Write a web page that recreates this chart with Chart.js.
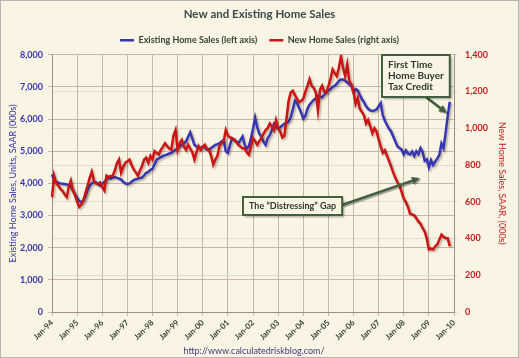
<!DOCTYPE html>
<html lang="en">
<head>
  <meta charset="UTF-8">
  <title>New and Existing Home Sales</title>
  <script src="https://cdn.jsdelivr.net/npm/chart.js"></script>
  <style>
    html, body { margin: 0; padding: 0; background: #f9f4e4; }
  </style>
</head>
<body>
  <canvas id="homeSalesChart" width="519" height="358"></canvas>
  <script>
    // Monthly data, Jan-94 .. Nov-09 (thousands, SAAR)
    const years = ['94','95','96','97','98','99','00','01','02','03','04','05','06','07','08','09','10'];
    const monthNames = ['Jan','Feb','Mar','Apr','May','Jun','Jul','Aug','Sep','Oct','Nov','Dec'];

    // Existing home sales (left axis)
    const existingSales = [
      4280, 4100, 4050, 4020, 4000, 3990, 3980, 3970, 3950, 3900, 3780, 3650, // 1994
      3550, 3450, 3420, 3480, 3600, 3800, 3930, 4000, 4050, 4030, 3980, 3930, // 1995
      3980, 4050, 4120, 4180, 4150, 4180, 4200, 4170, 4150, 4120, 4050, 4000, // 1996
      3980, 4000, 4050, 4100, 4130, 4150, 4170, 4180, 4250, 4330, 4360, 4420, // 1997
      4450, 4600, 4740, 4780, 4820, 4850, 4880, 4900, 4930, 4950, 5000, 5050, // 1998
      5100, 5150, 5200, 5250, 5300, 5450, 5590, 5400, 5200, 5150, 5100, 5100, // 1999
      5150, 5120, 5050, 5050, 5100, 5150, 5200, 5220, 5250, 5300, 5350, 5000, // 2000
      4950, 5200, 5400, 5350, 5300, 5250, 5350, 5460, 5200, 5080, 5150, 5400, // 2001
      5700, 6050, 5750, 5550, 5450, 5300, 5200, 5400, 5500, 5650, 5850, 5750, // 2002
      5700, 5750, 5800, 5860, 5880, 5920, 6050, 6300, 6575, 6500, 6350, 6200, // 2003
      6015, 6100, 6320, 6450, 6525, 6600, 6650, 6727, 6700, 6680, 6750, 6830, // 2004
      6900, 6930, 7000, 7032, 7100, 7185, 7230, 7230, 7200, 7135, 7080, 7030, // 2005
      6830, 6930, 6900, 6750, 6620, 6525, 6400, 6320, 6270, 6250, 6270, 6300, // 2006
      6400, 6500, 6116, 5950, 5811, 5700, 5608, 5450, 5300, 5150, 5100, 5050, // 2007
      4900, 5030, 4930, 4900, 4990, 4850, 5000, 4910, 5100, 4980, 4700, 4750, // 2008
      4500, 4720, 4570, 4680, 4770, 4890, 5240, 5100, 5570, 6100, 6540        // 2009
    ];

    // New home sales (right axis)
    const newSales = [
      625, 742, 700, 688, 670, 660, 640, 625, 680, 715, 660, 635,             // 1994
      600, 572, 585, 608, 650, 688, 730, 763, 715, 700, 697, 705,             // 1995
      680, 662, 742, 735, 740, 742, 770, 810, 830, 758, 790, 812,             // 1996
      820, 830, 800, 776, 760, 742, 770, 795, 830, 840, 812, 850,             // 1997
      830, 876, 865, 857, 883, 900, 919, 903, 890, 883, 960, 990,             // 1998
      883, 920, 937, 900, 883, 910, 890, 870, 830, 870, 903, 883,             // 1999
      900, 910, 890, 883, 850, 803, 830, 850, 903, 920, 930, 990,             // 2000
      960, 950, 945, 940, 925, 910, 900, 890, 892, 870, 857, 900,             // 2001
      946, 930, 910, 930, 946, 970, 990, 1000, 1026, 1010, 990, 1044,         // 2002
      1000, 982, 950, 960, 1053, 1150, 1195, 1204, 1180, 1160, 1142, 1150,    // 2003
      1160, 1200, 1231, 1267, 1231, 1220, 1195, 1097, 1210, 1231, 1200, 1195, // 2004
      1230, 1267, 1320, 1300, 1284, 1329, 1391, 1329, 1284, 1347, 1257, 1240, // 2005
      1200, 1133, 1165, 1106, 1089, 1070, 1026, 1045, 1010, 973, 1000, 982,   // 2006
      940, 900, 866, 880, 850, 821, 790, 758, 730, 705, 688, 652,             // 2007
      616, 598, 572, 536, 530, 527, 510, 492, 480, 456, 438, 400,             // 2008
      340, 345, 340, 358, 367, 394, 421, 410, 402, 402, 358                   // 2009
    ];

    // category labels Jan-94 .. Jan-10
    const labels = [];
    years.forEach(function (y, k) {
      monthNames.forEach(function (m) {
        if (k < years.length - 1 || m === 'Jan') labels.push(m + '-' + y);
      });
    });

    const FONT = 'Lato, "Open Sans", sans-serif';
    const BLUE = '#3535b5';
    const RED = '#cc1414';
    const GRID = '#c6b7ab';

    // cream background + thin outer border
    const chartBackground = {
      id: 'chartBackground',
      beforeDraw(chart) {
        const ctx = chart.ctx;
        ctx.save();
        ctx.fillStyle = '#f9f4e4';
        ctx.fillRect(0, 0, chart.width, chart.height);
        ctx.strokeStyle = '#b5b5b5';
        ctx.lineWidth = 1;
        ctx.strokeRect(0.5, 0.5, chart.width - 1, chart.height - 1);
        ctx.restore();
      }
    };

    // excel-ish drop shadow under the lines
    const lineShadow = {
      id: 'lineShadow',
      beforeDatasetsDraw(chart) {
        const ctx = chart.ctx;
        ctx.save();
        ctx.shadowColor = 'rgba(60,40,20,0.35)';
        ctx.shadowBlur = 2;
        ctx.shadowOffsetX = 1.5;
        ctx.shadowOffsetY = 1.5;
      },
      afterDatasetsDraw(chart) {
        chart.ctx.restore();
      }
    };

    function drawArrow(ctx, x1, y1, x2, y2) {
      const a = Math.atan2(y2 - y1, x2 - x1);
      const head = 9;
      ctx.beginPath();
      ctx.moveTo(x1, y1);
      ctx.lineTo(x2 - Math.cos(a) * head * 0.8, y2 - Math.sin(a) * head * 0.8);
      ctx.stroke();
      ctx.beginPath();
      ctx.moveTo(x2, y2);
      ctx.lineTo(x2 - head * Math.cos(a - 0.45), y2 - head * Math.sin(a - 0.45));
      ctx.lineTo(x2 - head * Math.cos(a + 0.45), y2 - head * Math.sin(a + 0.45));
      ctx.closePath();
      ctx.fill();
    }

    function drawNote(ctx, x, y, w, h, lines, lineGap, size) {
      ctx.save();
      ctx.font = 'bold ' + size + 'px ' + FONT;
      const textW = Math.max.apply(null, lines.map(function (t) { return ctx.measureText(t).width; }));
      w = Math.max(w, textW + 12);
      ctx.shadowColor = 'rgba(0,0,0,0.35)';
      ctx.shadowOffsetX = 2;
      ctx.shadowOffsetY = 2;
      ctx.shadowBlur = 2;
      ctx.fillStyle = '#f9f4e4';
      ctx.fillRect(x, y, w, h);
      ctx.restore();
      ctx.save();
      ctx.strokeStyle = '#41603f';
      ctx.lineWidth = 2;
      ctx.strokeRect(x, y, w, h);
      ctx.fillStyle = '#2e3a2e';
      ctx.font = 'bold ' + size + 'px ' + FONT;
      ctx.textBaseline = 'middle';
      lines.forEach(function (t, k) {
        ctx.fillText(t, x + 6, y + h / 2 + (k - (lines.length - 1) / 2) * lineGap);
      });
      ctx.restore();
    }

    // call-out boxes, arrows and the source line
    const notes = {
      id: 'notes',
      afterDraw(chart) {
        const ctx = chart.ctx;
        ctx.save();
        ctx.strokeStyle = '#41603f';
        ctx.fillStyle = '#41603f';
        ctx.lineWidth = 2.5;
        ctx.shadowColor = 'rgba(0,0,0,0.3)';
        ctx.shadowOffsetX = 1.5;
        ctx.shadowOffsetY = 1.5;
        drawArrow(ctx, 426, 97, 447, 113);
        drawArrow(ctx, 342, 205, 420, 178);
        ctx.restore();

        drawNote(ctx, 382, 55, 65, 42, ['First Time', 'Home Buyer', 'Tax Credit'], 11, 10);
        drawNote(ctx, 243, 197, 99, 18, ['The \u201CDistressing\u201D Gap'], 11, 9);

        ctx.save();
        ctx.fillStyle = '#3b3b78';
        ctx.font = '9px ' + FONT;
        ctx.textAlign = 'center';
        ctx.textBaseline = 'middle';
        ctx.fillText('http://www.calculatedriskblog.com/', 254, 351);
        ctx.restore();
      }
    };

    const ctx = document.getElementById('homeSalesChart').getContext('2d');
    const homeSalesChart = new Chart(ctx, {
      type: 'line',
      data: {
        labels: labels,
        datasets: [{
          label: 'Existing Home Sales (left axis)',
          data: existingSales,
          yAxisID: 'yLeft',
          borderColor: BLUE,
          backgroundColor: BLUE,
          borderWidth: 2.5,
          pointRadius: 0,
          tension: 0,
          order: 1
        }, {
          label: 'New Home Sales (right axis)',
          data: newSales,
          yAxisID: 'yRight',
          borderColor: RED,
          backgroundColor: RED,
          borderWidth: 2.5,
          pointRadius: 0,
          tension: 0,
          order: 0
        }]
      },
      options: {
        responsive: false,
        devicePixelRatio: 1,
        animation: false,
        layout: { padding: { left: 0, right: 0, top: 0, bottom: 0 } },
        plugins: {
          title: {
            display: true,
            text: 'New and Existing Home Sales',
            color: '#3a4a4a',
            font: { family: FONT, size: 11.5, weight: 'bold' },
            padding: { top: 7, bottom: 3 }
          },
          legend: {
            display: true,
            labels: {
              color: '#34432f',
              font: { family: FONT, size: 9, weight: 'bold' },
              usePointStyle: true,
              pointStyle: 'line',
              pointStyleWidth: 14,
              padding: 12,
              sort: function (a, b) { return a.datasetIndex - b.datasetIndex; }
            }
          },
          tooltip: { enabled: false }
        },
        scales: {
          x: {
            type: 'category',
            offset: false,
            afterFit: function (s) { s.height = 46; },
            grid: { color: GRID, lineWidth: 1, tickLength: 4, drawTicks: true },
            border: { color: '#9a8f86' },
            ticks: {
              autoSkip: false,
              maxRotation: 45,
              minRotation: 45,
              padding: 2,
              color: '#34432f',
              font: { family: FONT, size: 8, weight: 'bold' },
              callback: function (v) {
                const l = this.getLabelForValue(v);
                return l.indexOf('Jan') === 0 ? l : null;
              }
            }
          },
          yLeft: {
            position: 'left',
            min: 0,
            max: 8000,
            afterFit: function (s) { s.width = 52; },
            grid: { color: GRID, tickLength: 4 },
            border: { color: '#9a8f86' },
            ticks: {
              stepSize: 1000,
              padding: 5,
              color: '#3333aa',
              font: { family: FONT, size: 9, weight: 'bold' },
              callback: function (v) { return v.toLocaleString('en-US'); }
            },
            title: {
              display: true,
              text: 'Existing Home Sales, Units, SAAR (000s)',
              color: '#3333aa',
              font: { family: FONT, size: 9 },
              padding: { top: 8, bottom: 0 }
            }
          },
          yRight: {
            position: 'right',
            min: 0,
            max: 1400,
            afterFit: function (s) { s.width = 65; },
            grid: { color: 'rgba(198,183,171,0.4)', tickLength: 4, drawOnChartArea: true },
            border: { color: '#9a8f86' },
            ticks: {
              stepSize: 200,
              padding: 7,
              color: '#c41e1e',
              font: { family: FONT, size: 9, weight: 'bold' },
              callback: function (v) { return v.toLocaleString('en-US'); }
            },
            title: {
              display: true,
              text: 'New Home Sales, SAAR, (000s)',
              color: '#c41e1e',
              font: { family: FONT, size: 9 },
              padding: { top: 12, bottom: 0 }
            }
          }
        }
      },
      plugins: [chartBackground, lineShadow, notes]
    });
  </script>
</body>
</html>
